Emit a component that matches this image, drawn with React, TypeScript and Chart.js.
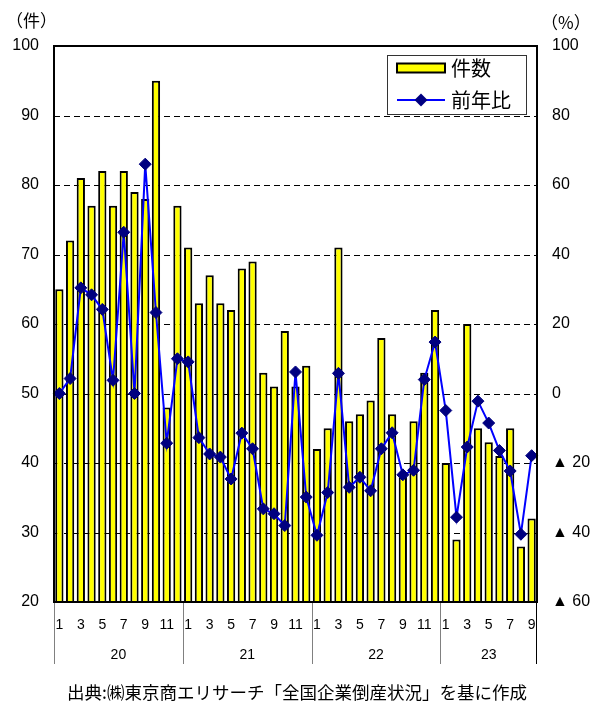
import { useEffect, useRef } from 'react';
import { Chart, registerables } from 'chart.js';

Chart.register(...registerables);

// Year groups (2020–2023, shown as two-digit years)
const yearLabels = ['20', '21', '22', '23'];

// Monthly bankruptcy counts (件数)
const counts2020 = [65, 72, 81, 77, 82, 77, 82, 79, 78, 95, 48, 77];
const counts2021 = [71, 63, 67, 63, 62, 68, 69, 53, 51, 59, 51, 54];
const counts2022 = [42, 45, 71, 46, 47, 49, 58, 47, 38, 46, 53, 62];
const counts2023 = [40, 29, 60, 45, 43, 41, 45, 28, 32];

// Year-on-year change (前年比, %)
const pct2020 = [0, 4.3, 30.4, 28.4, 24.2, 3.8, 46.4, 0, 66.0, 23.3, -14.3, 10.0];
const pct2021 = [9.1, -12.7, -17.4, -18.3, -24.6, -11.4, -15.9, -33.2, -34.6, -38.0, 6.2, -29.8];
const pct2022 = [-40.8, -28.5, 5.8, -27.0, -24.1, -28.0, -15.9, -11.3, -23.4, -22.1, 4.0, 14.8];
const pct2023 = [-4.9, -35.6, -15.4, -2.2, -8.5, -16.4, -22.3, -40.5, -17.9];

// Axis ticks
const leftTicks = { min: 20, max: 100, step: 10 };
const rightTicks = { min: -60, max: 100, step: 20 };

const countGroups = [counts2020, counts2021, counts2022, counts2023];
const pctGroups = [pct2020, pct2021, pct2022, pct2023];

const monthLabels: string[] = [];
countGroups.forEach((g) => g.forEach((_, i) => monthLabels.push(String(i + 1))));
const countValues = countGroups.flat();
const pctValues = pctGroups.flat();
const groupSizes = countGroups.map((g) => g.length);

const NUM_FONT = '"Liberation Sans", Arial, "DejaVu Sans", sans-serif';
const JP_FONT = '"Noto Sans CJK JP", "Liberation Sans", sans-serif';

const gridPlugin = {
  id: 'dashGrid',
  beforeDatasetsDraw(chart: any) {
    const { ctx, chartArea, scales } = chart;
    const y = scales.y;
    ctx.save();
    ctx.strokeStyle = '#000';
    ctx.lineWidth = 1;
    ctx.setLineDash([6, 4]);
    y.ticks.forEach((t: any) => {
      if (t.value === leftTicks.min || t.value === leftTicks.max) return;
      const py = Math.round(y.getPixelForValue(t.value)) + 0.5;
      ctx.beginPath();
      ctx.moveTo(chartArea.left, py);
      ctx.lineTo(chartArea.right, py);
      ctx.stroke();
    });
    ctx.restore();
  },
};

const decorPlugin = {
  id: 'decor',
  afterDraw(chart: any) {
    const { ctx, chartArea, scales } = chart;
    const x = scales.x;
    const w = x.getPixelForValue(1) - x.getPixelForValue(0);
    ctx.save();

    // frame
    ctx.strokeStyle = '#000';
    ctx.lineWidth = 2;
    ctx.strokeRect(chartArea.left, chartArea.top, chartArea.right - chartArea.left, chartArea.bottom - chartArea.top);

    // group separators + year labels
    let start = 0;
    const sepBottom = chartArea.bottom + 62;
    const drawSep = (px: number, color: string) => {
      ctx.strokeStyle = color;
      ctx.lineWidth = 1;
      ctx.beginPath();
      ctx.moveTo(Math.round(px) + 0.5, chartArea.bottom + 1);
      ctx.lineTo(Math.round(px) + 0.5, sepBottom);
      ctx.stroke();
    };
    ctx.font = `14px ${NUM_FONT}`;
    ctx.fillStyle = '#000';
    ctx.textAlign = 'center';
    ctx.textBaseline = 'middle';
    groupSizes.forEach((n, gi) => {
      const left = x.getPixelForValue(start) - w / 2;
      const right = x.getPixelForValue(start + n - 1) + w / 2;
      drawSep(left, '#808080');
      ctx.fillText(yearLabels[gi], (left + right) / 2, chartArea.bottom + 53);
      start += n;
    });
    drawSep(x.getPixelForValue(start - 1) + w / 2 - 1, '#000');

    // unit labels
    ctx.fillStyle = '#000';
    ctx.font = `17px ${JP_FONT}`;
    ctx.textAlign = 'left';
    ctx.fillText('（件）', 6, 21);
    ctx.fillText('（%）', 541, 23);

    // source note
    ctx.font = `17.5px ${JP_FONT}`;
    ctx.textAlign = 'center';
    ctx.fillText('出典:㈱東京商エリサーチ「全国企業倒産状況」を基に作成', 297, 692);

    // legend
    const lx = chartArea.right - 150;
    const ly = chartArea.top + 9;
    const lw = 139;
    const lh = 59;
    ctx.fillStyle = '#fff';
    ctx.fillRect(lx, ly, lw, lh);
    ctx.strokeStyle = '#333';
    ctx.lineWidth = 1;
    ctx.strokeRect(lx + 0.5, ly + 0.5, lw, lh);

    const ds0 = chart.data.datasets[0];
    const ds1 = chart.data.datasets[1];
    // bar swatch
    ctx.fillStyle = ds0.backgroundColor;
    ctx.fillRect(lx + 10, ly + 8.5, 48, 9);
    ctx.strokeStyle = ds0.borderColor;
    ctx.lineWidth = 2;
    ctx.strokeRect(lx + 10, ly + 8.5, 48, 9);
    // line swatch
    const y2 = ly + 45;
    ctx.strokeStyle = ds1.borderColor;
    ctx.lineWidth = 2;
    ctx.beginPath();
    ctx.moveTo(lx + 10, y2);
    ctx.lineTo(lx + 58, y2);
    ctx.stroke();
    ctx.fillStyle = ds1.pointBackgroundColor;
    const cx = lx + 34;
    const r = 6.5;
    ctx.beginPath();
    ctx.moveTo(cx, y2 - r);
    ctx.lineTo(cx + r, y2);
    ctx.lineTo(cx, y2 + r);
    ctx.lineTo(cx - r, y2);
    ctx.closePath();
    ctx.fill();

    ctx.fillStyle = '#000';
    ctx.font = `20px ${JP_FONT}`;
    ctx.textAlign = 'left';
    ctx.textBaseline = 'middle';
    ctx.fillText(ds0.label, lx + 64, ly + 13);
    ctx.fillText(ds1.label, lx + 64, y2);

    ctx.restore();
  },
};

export default function App() {
  const ref = useRef<HTMLCanvasElement | null>(null);

  useEffect(() => {
    if (!ref.current) return;
    const chart = new Chart(ref.current, {
      type: 'bar',
      data: {
        labels: monthLabels,
        datasets: [
          {
            type: 'bar',
            label: '件数',
            data: countValues,
            backgroundColor: '#FFFF00',
            borderColor: '#000000',
            borderWidth: 2,
            borderSkipped: false,
            barPercentage: 0.77,
            categoryPercentage: 1,
            yAxisID: 'y',
            order: 2,
          } as any,
          {
            type: 'line',
            label: '前年比',
            data: pctValues,
            borderColor: '#0000FF',
            borderWidth: 2,
            pointStyle: 'rectRot',
            pointRadius: 6,
            pointBackgroundColor: '#000080',
            pointBorderColor: '#000080',
            pointBorderWidth: 1,
            tension: 0,
            fill: false,
            yAxisID: 'y1',
            order: 1,
          } as any,
        ],
      },
      options: {
        responsive: false,
        animation: false,
        layout: { padding: { top: 46, left: 0, right: 0, bottom: 0 } },
        plugins: {
          legend: { display: false },
          tooltip: { enabled: false },
        },
        scales: {
          x: {
            type: 'category',
            offset: true,
            grid: { display: false, drawTicks: false },
            border: { display: false },
            ticks: {
              autoSkip: false,
              maxRotation: 0,
              minRotation: 0,
              padding: 15,
              color: '#000',
              font: { family: NUM_FONT, size: 14 },
              callback: (_v: any, i: number) => (Number(monthLabels[i]) % 2 === 1 ? monthLabels[i] : ''),
            },
            afterFit: (s: any) => {
              s.height = 102;
            },
          },
          y: {
            position: 'left',
            min: leftTicks.min,
            max: leftTicks.max,
            ticks: {
              stepSize: leftTicks.step,
              padding: 15,
              color: '#000',
              font: { family: NUM_FONT, size: 16 },
            },
            grid: { display: false, drawTicks: false },
            border: { display: false },
            afterFit: (s: any) => {
              s.width = 54;
            },
          },
          y1: {
            position: 'right',
            min: rightTicks.min,
            max: rightTicks.max,
            ticks: {
              stepSize: rightTicks.step,
              padding: 15,
              color: '#000',
              font: { family: NUM_FONT, size: 16 },
              callback: (v: any) => (Number(v) < 0 ? '▲ ' + Math.abs(Number(v)) : String(v)),
            },
            grid: { display: false, drawTicks: false },
            border: { display: false },
            afterFit: (s: any) => {
              s.width = 57;
            },
          },
        },
      },
      plugins: [gridPlugin, decorPlugin],
    });
    return () => chart.destroy();
  }, []);

  return (
    <div style={{ position: 'absolute', left: 0, top: 0, width: 594, height: 704, background: '#fff' }}>
      <canvas ref={ref} width={594} height={704} style={{ display: 'block' }} />
    </div>
  );
}
